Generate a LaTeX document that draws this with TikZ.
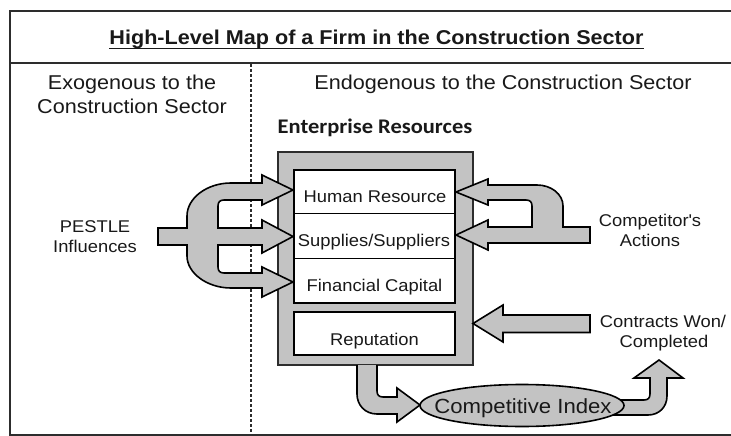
\documentclass[tikz,border=0pt]{standalone}
\usepackage{fontspec}
\setmainfont{Liberation Sans}[FakeStretch=1.08]
\newfontfamily\erfont{Carlito}[FakeStretch=1.08]
\usetikzlibrary{shapes.geometric}
\definecolor{boxgray}{RGB}{195,195,195}
\definecolor{framegray}{RGB}{45,45,45}
\definecolor{txt}{RGB}{25,25,25}
\tikzset{
  lbl/.style={inner sep=0pt, anchor=base, text=txt, font=\fontsize{17}{20}\selectfont},
  hdr/.style={inner sep=0pt, anchor=base, text=txt, font=\fontsize{20}{24}\selectfont},
  fatarrow/.style={fill=boxgray, draw=black, line width=1.6pt, line join=miter},
  resbox/.style={draw=black, fill=white, line width=1.8pt, inner sep=0pt},
  frameline/.style={draw=framegray, line width=2pt},
  divline/.style={draw=framegray, line width=1.2pt, dash pattern=on 3pt off 2pt},
}
\begin{document}
\begin{tikzpicture}[x=1pt,y=-1pt]
\useasboundingbox (0,0) rectangle (731,436);
% frame
\draw[frameline] (731,11) -- (10,11) -- (10,434.5) -- (731,434.5);
\draw[frameline] (10,63) -- (731,63);
\draw[divline] (251,64) -- (251,434);
% title and headers
\node[hdr, font=\fontsize{20}{24}\selectfont\bfseries] (ttl) at (376.5,45) {High-Level Map of a Firm in the Construction Sector};
\draw[line width=1.3pt, txt] ([yshift=-3.5pt]ttl.base west) -- ([yshift=-3.5pt]ttl.base east);
\node[hdr] (exoA) at (132,89) {Exogenous to the};
\node[hdr] (exoB) at (132,113) {Construction Sector};
\node[hdr] (endo) at (503,89) {Endogenous to the Construction Sector};
\node[hdr, font=\erfont\bfseries\fontsize{20.8}{24}\selectfont] (ert) at (375,133) {Enterprise Resources};
% gray container
\node[draw=framegray, fill=boxgray, line width=1.5pt, minimum width=195pt, minimum height=213pt, inner sep=0pt] (er) at (375.5,258.5) {};
% PESTLE arrows
\draw[fatarrow] (158,228) -- (187,228) -- (187,216) .. controls (187,198) and (207,183) .. (231,183) -- (262,183) -- (262,175) -- (293,190) -- (262,205) -- (262,200) -- (224,200) .. controls (220,200) and (218,202) .. (218,206) -- (218,228) -- (262,228) -- (262,220) -- (293,236.5) -- (262,253) -- (262,245) -- (218,245) -- (218,267) .. controls (218,271) and (220,273) .. (224,273) -- (262,273) -- (262,267) -- (293,282) -- (262,297) -- (262,288) -- (231,288) .. controls (207,288) and (187,273) .. (187,256) -- (187,245) -- (158,245) -- cycle;
% Competitor arrows
\draw[fatarrow] (456,235) -- (488,220) -- (488,227) -- (532,227) -- (532,206) .. controls (532,202) and (530,200) .. (526,200) -- (488,200) -- (488,205) -- (456,192) -- (488,179) -- (488,185) -- (537,185) .. controls (551,185) and (563,194) .. (563,206) -- (563,227) -- (590,227) -- (590,243) -- (488,243) -- (488,250) -- cycle;
% Contracts arrow
\draw[fatarrow] (473,323.5) -- (503,305) -- (503,315) -- (590,315) -- (590,332.5) -- (503,332.5) -- (503,342) -- cycle;
% Reputation -> Competitive Index
\draw[fatarrow] (377,365) -- (377,391) .. controls (377,395) and (379,397) .. (383,397) -- (397,397) -- (397,388) -- (420,405) -- (397,422) -- (397,414) -- (377,414) .. controls (365,414) and (357,405) .. (357,394) -- (357,365);
% Competitive Index -> Contracts
\draw[fatarrow] (612,400) -- (644,400) .. controls (648,400) and (650,398) .. (650,394) -- (650,378) -- (634,378) -- (659,360) -- (683,378) -- (667,378) -- (667,396) .. controls (667,407) and (659,415) .. (648,415) -- (612,415);
% resource boxes
\node[resbox, minimum width=161pt, minimum height=43.5pt] (hr) at (374.5,191.75) {};
\node[resbox, minimum width=161pt, minimum height=45pt] (ss) at (374.5,236) {};
\node[resbox, minimum width=161pt, minimum height=44.5pt] (fc) at (374.5,280.75) {};
\node[resbox, minimum width=161pt, minimum height=43pt] (rep) at (374.5,333.5) {};
\node[lbl] (hrt) at (375,202.3) {Human Resource};
\node[lbl] (sst) at (374,246.7) {Supplies/Suppliers};
\node[lbl] (fct) at (374.5,291.5) {Financial Capital};
\node[lbl] (rept) at (374.5,345) {Reputation};
% competitive index
\node[ellipse, draw=black, fill=boxgray, line width=1.6pt, minimum width=204pt, minimum height=42pt, inner sep=0pt] (ci) at (522,405.5) {};
\node[lbl, font=\fontsize{20.5}{24}\selectfont] (cit) at (523,413.3) {Competitive Index};
% side labels
\node[lbl] (pesA) at (95,232.3) {PESTLE};
\node[lbl] (pesB) at (95,252.3) {Influences};
\node[lbl] (compA) at (650,226) {Competitor\textquotesingle s};
\node[lbl] (compB) at (650,246.5) {Actions};
\node[lbl] (conA) at (663,327.3) {Contracts Won/};
\node[lbl] (conB) at (664,347.3) {Completed};
\end{tikzpicture}
\end{document}
